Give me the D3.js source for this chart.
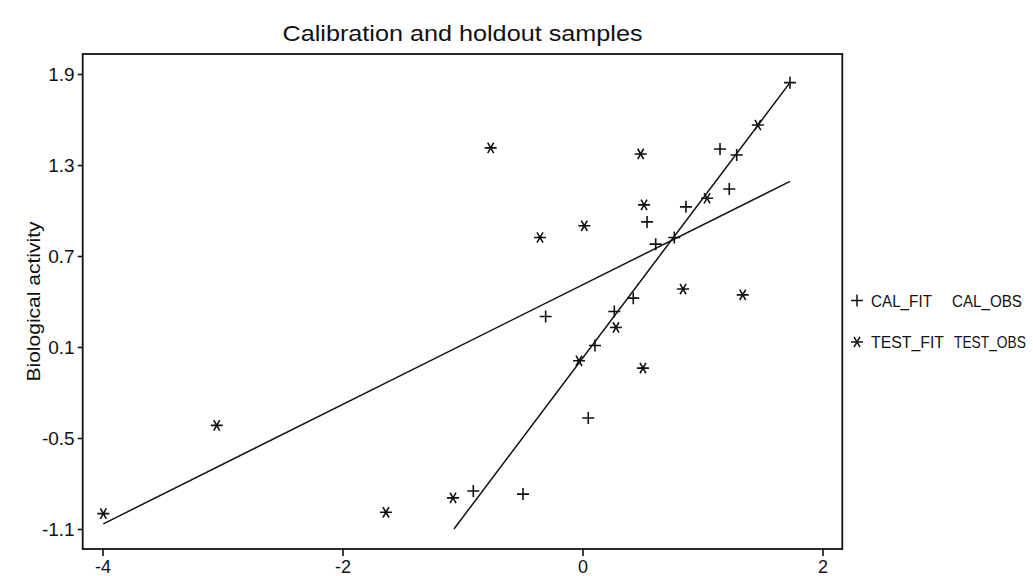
<!DOCTYPE html>
<html>
<head>
<meta charset="utf-8">
<script src="https://cdn.jsdelivr.net/npm/d3@7"></script>
<style>
  html, body { margin: 0; padding: 0; background: #fff; }
  svg { display: block; font-family: "Liberation Sans", Arial, sans-serif; }
</style>
</head>
<body>
<svg id="chart" width="1033" height="576"></svg>
<script>
// Calibration sample: descriptor vs observed activity
const calX = [1.729, 1.146, 1.285, 1.223, 0.862, 0.538, 0.765, 0.610, 0.423, 0.265, -0.307, 0.104, 0.048, -0.910, -0.496];
const calY = [1.843, 1.406, 1.366, 1.142, 1.024, 0.925, 0.822, 0.778, 0.422, 0.334, 0.301, 0.110, -0.368, -0.850, -0.870];

// Holdout (test) sample
const testX = [1.461, 0.485, -0.765, 1.038, 0.513, 0.015, -0.354, 0.838, 1.335, 0.279, -0.029, 0.504, -3.048, -1.079, -1.638, -3.993];
const testY = [1.564, 1.373, 1.413, 1.081, 1.037, 0.899, 0.822, 0.482, 0.444, 0.229, 0.009, -0.039, -0.417, -0.895, -0.990, -0.999];

// Fitted lines (end points)
const calFitX = [-1.071, 1.729];
const calFitY = [-1.100, 1.843];
const testFitX = [-3.993, 1.729];
const testFitY = [-1.066, 1.192];

const xTicks = [-4, -2, 0, 2];
const yTicks = [-1.1, -0.5, 0.1, 0.7, 1.3, 1.9];
const legendLabels = [["CAL_FIT", "CAL_OBS"], ["TEST_FIT", "TEST_OBS"]];

const svg = d3.select("#chart");
const plotLeft = 82.7, plotRight = 842.3, plotTop = 54, plotBottom = 549;

const x = d3.scaleLinear().domain([-4.165, 2.165]).range([plotLeft, plotRight]);
const y = d3.scaleLinear().domain([-1.232, 2.032]).range([plotBottom, plotTop]);

const ink = "#111";
const fontFamily = "\"Liberation Sans\", Arial, sans-serif";
// plain hyphen for negative numbers
const hyphenate = s => s.replace("\u2212", "-");

// Title
svg.append("text")
  .attr("x", (plotLeft + plotRight) / 2).attr("y", 41)
  .attr("text-anchor", "middle")
  .attr("font-size", 22)
  .attr("textLength", 360).attr("lengthAdjust", "spacingAndGlyphs")
  .attr("fill", ink)
  .text("Calibration and holdout samples");

// Y axis label
svg.append("text")
  .attr("transform", `translate(40,${(plotTop + plotBottom) / 2}) rotate(-90)`)
  .attr("text-anchor", "middle")
  .attr("font-size", 18)
  .attr("textLength", 160).attr("lengthAdjust", "spacingAndGlyphs")
  .attr("fill", ink)
  .text("Biological activity");

// Axes
const xAxis = svg.append("g")
  .attr("transform", `translate(0,${plotBottom})`)
  .call(d3.axisBottom(x).tickValues(xTicks).tickSize(7).tickPadding(4).tickFormat(d => hyphenate(d3.format("d")(d))));
xAxis.select(".domain").remove();
xAxis.selectAll("line").attr("stroke", ink).attr("stroke-width", 1.6);
xAxis.selectAll("text").attr("font-size", 18).attr("fill", ink)
  .attr("font-family", fontFamily);

const yAxis = svg.append("g")
  .attr("transform", `translate(${plotLeft},0)`)
  .call(d3.axisLeft(y).tickValues(yTicks).tickSize(5).tickPadding(3).tickFormat(d => hyphenate(d3.format(".1f")(d))));
yAxis.select(".domain").remove();
yAxis.selectAll("line").attr("stroke", ink).attr("stroke-width", 1.6);
yAxis.selectAll("text").attr("font-size", 19).attr("fill", ink)
  .attr("font-family", fontFamily);

// Frame
svg.append("rect")
  .attr("x", plotLeft).attr("y", plotTop)
  .attr("width", plotRight - plotLeft).attr("height", plotBottom - plotTop)
  .attr("fill", "none").attr("stroke", ink).attr("stroke-width", 1.8);

// Fit lines
const line = d3.line().x(d => x(d[0])).y(d => y(d[1]));
[[calFitX, calFitY], [testFitX, testFitY]].forEach(([xs, ys]) => {
  svg.append("path")
    .attr("d", line(xs.map((v, i) => [v, ys[i]])))
    .attr("fill", "none").attr("stroke", ink).attr("stroke-width", 1.5);
});

// Marker shapes
const r = 6;
const plusPath = `M${-r},0H${r}M0,${-r}V${r}`;
const dx = r * 0.5, dy = r * 0.866;
const starPath = `M${-r},0H${r}M${-dx},${-dy}L${dx},${dy}M${dx},${-dy}L${-dx},${dy}`;

function drawMarkers(xs, ys, shape) {
  svg.append("g").selectAll("path")
    .data(xs.map((v, i) => [v, ys[i]]))
    .join("path")
    .attr("transform", d => `translate(${x(d[0])},${y(d[1])})`)
    .attr("d", shape)
    .attr("fill", "none").attr("stroke", ink).attr("stroke-width", 1.6);
}
drawMarkers(calX, calY, plusPath);
drawMarkers(testX, testY, starPath);

// Legend: narrow labels, squeezed horizontally to a set width
const legend = svg.append("g");
const legendRows = [300.5, 342];
const shapes = [plusPath, starPath];
function condensedText(tx, ty, width, label) {
  const t = legend.append("text")
    .attr("font-size", 16).attr("fill", ink)
    .text(label);
  const natural = t.node().getComputedTextLength();
  t.attr("transform", `translate(${tx},${ty}) scale(${width / natural},1)`);
}
legendLabels.forEach((labels, i) => {
  legend.append("path")
    .attr("transform", `translate(857,${legendRows[i]})`)
    .attr("d", shapes[i])
    .attr("fill", "none").attr("stroke", ink).attr("stroke-width", 1.5);
  condensedText(871, legendRows[i] + 6, i === 0 ? 61 : 73, labels[0]);
  condensedText(i === 0 ? 952 : 954, legendRows[i] + 6, i === 0 ? 70 : 72, labels[1]);
});
</script>
</body>
</html>
